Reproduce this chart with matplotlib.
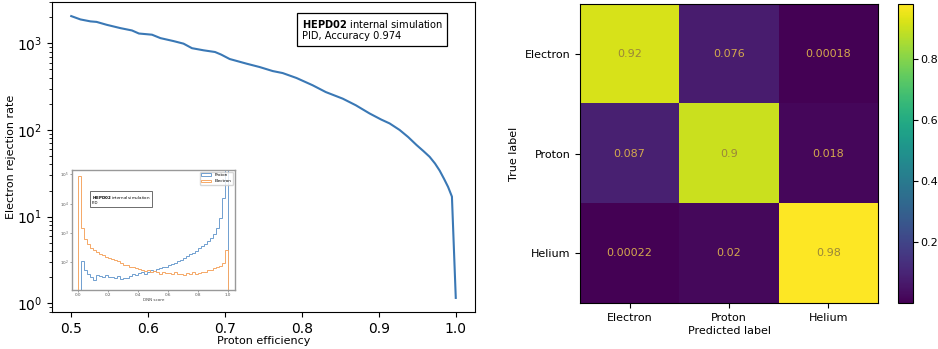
import matplotlib
matplotlib.use("Agg")
import matplotlib.pyplot as plt
import numpy as np

# ROC-like curve: proton efficiency vs electron rejection rate
proton_eff = [0.500, 0.512, 0.525, 0.533, 0.546, 0.564, 0.579, 0.588, 0.605,
              0.616, 0.633, 0.646, 0.657, 0.672, 0.687, 0.695, 0.706, 0.728,
              0.745, 0.762, 0.775, 0.793, 0.814, 0.831, 0.853, 0.870, 0.888,
              0.903, 0.914, 0.927, 0.938, 0.949, 0.958, 0.966, 0.973, 0.979,
              0.985, 0.990, 0.995, 1.000]
e_rejection = [2066, 1890, 1795, 1770, 1640, 1500, 1410, 1300, 1260,
               1150, 1063, 993, 880, 832, 795, 742, 660, 583,
               533, 479, 454, 398, 328, 274, 230, 193, 155,
               132, 119, 100, 83, 67, 57, 49, 41, 34,
               27, 22, 17, 1.15]

# inset: DNN score histograms (50 bins on [0, 1])
dnn_edges = np.linspace(0.0, 1.0, 51)
electron_counts = [90000, 1500, 620, 420, 300, 250, 215, 190, 170, 150,
                   140, 128, 118, 105, 92, 80, 78, 70, 66, 60,
                   56, 54, 49, 52, 45, 48, 44, 40, 46, 41,
                   43, 38, 44, 39, 40, 36, 42, 38, 45, 40,
                   43, 47, 44, 52, 55, 60, 66, 75, 92, 260]
proton_counts = [0, 110, 55, 38, 30, 24, 36, 33, 30, 35,
                 31, 30, 28, 32, 27, 29, 28, 34, 38, 36,
                 41, 44, 40, 47, 53, 50, 58, 62, 69, 66,
                 78, 86, 95, 104, 120, 138, 160, 190, 200, 240,
                 290, 340, 420, 520, 650, 900, 1500, 3200, 15000, 250000]

# confusion matrix
class_names = ["Electron", "Proton", "Helium"]
conf = np.array([[0.92, 0.076, 0.00018],
                 [0.087, 0.9, 0.018],
                 [0.00022, 0.02, 0.98]])

W, H = 938, 349
fig = plt.figure(figsize=(W / 100, H / 100), dpi=100)

def fbox(x0, y0, x1, y1):
    # pixel box -> figure fraction
    return [x0 / W, 1 - y1 / H, (x1 - x0) / W, (y1 - y0) / H]

# ---- left panel
ax = fig.add_axes(fbox(52, 2, 475, 312))
ax.plot(proton_eff, e_rejection, color="#3a78b5", lw=1.5)
ax.set_yscale("log")
ax.set_xlabel("Proton efficiency", fontsize=8, labelpad=0)
ax.set_ylabel("Electron rejection rate", fontsize=8, labelpad=1)
ax.tick_params(labelsize=10)
ax.set_xticks([0.5, 0.6, 0.7, 0.8, 0.9, 1.0])
ax.text(0.59, 0.95, r"$\bf{HEPD02}$ internal simulation" + "\nPID, Accuracy 0.974",
        transform=ax.transAxes, fontsize=7.1, va="top", ha="left", linespacing=1.2,
        bbox=dict(boxstyle="square,pad=0.45", fc="white", ec="black", lw=0.9))

# inset
axi = fig.add_axes(fbox(72, 170, 235, 290))
axi.hist(dnn_edges[:-1], dnn_edges, weights=proton_counts, histtype="step",
         color="#6f9fd0", lw=0.7, label="Proton")
axi.hist(dnn_edges[:-1], dnn_edges, weights=electron_counts, histtype="step",
         color="#f5a866", lw=0.7, label="Electron")
axi.set_yscale("log")
axi.set_ylim(11, 1.4e5)
axi.set_xlim(-0.04, 1.05)
axi.set_xticks([0.0, 0.2, 0.4, 0.6, 0.8, 1.0])
axi.set_yticks([1e2, 1e3, 1e4, 1e5])
axi.minorticks_off()
axi.tick_params(labelsize=3, length=1.2, width=0.4, pad=1, colors="#555555")
axi.set_xlabel("DNN score", fontsize=3, labelpad=1, color="#444444")
for s in axi.spines.values():
    s.set_edgecolor("#999999")
    s.set_linewidth(1.0)
axi.legend(fontsize=3, loc="upper right", handlelength=2.5, frameon=True,
           borderpad=0.3, framealpha=0.8, edgecolor="#cccccc")
axi.text(0.12, 0.8, r"$\bf{HEPD02}$ internal simulation" + "\nPID",
         transform=axi.transAxes, fontsize=2.9, va="top", ha="left", linespacing=1.0,
         bbox=dict(boxstyle="square,pad=0.4", fc="white", ec="#555555", lw=0.6))

# ---- right panel: confusion matrix
axc = fig.add_axes(fbox(580, 4, 878, 303))
im = axc.imshow(conf, cmap="viridis", vmin=conf.min(), vmax=conf.max(), aspect="auto")
thresh = (conf.max() + conf.min()) / 2
for i in range(3):
    for j in range(3):
        c = "#9a8638" if conf[i, j] > thresh else "#d4a94e"
        axc.text(j, i, f"{conf[i, j]:.2g}", ha="center", va="center", color=c, fontsize=8)
axc.set_xticks(range(3), class_names)
axc.set_yticks(range(3), class_names)
axc.tick_params(labelsize=8)
axc.set_xlabel("Predicted label", fontsize=8, labelpad=2)
axc.set_ylabel("True label", fontsize=8)

cax = fig.add_axes(fbox(898, 4, 913, 303))
cb = fig.colorbar(im, cax=cax)
cb.set_ticks([0.2, 0.4, 0.6, 0.8])
cb.ax.tick_params(labelsize=8, pad=2)

fig.savefig("out.png", dpi=100)
